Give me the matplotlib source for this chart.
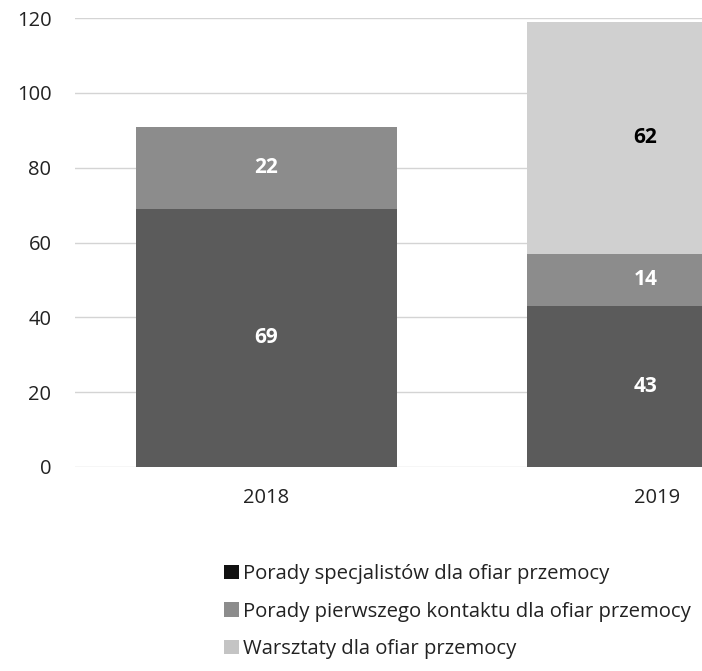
import matplotlib.pyplot as plt
from matplotlib.patches import Patch
import numpy as np

years = ["2018", "2019"]
specjalisci = [69, 43]
pierwszy_kontakt = [22, 14]
warsztaty = [0, 62]
series_names = ["Porady specjalistów dla ofiar przemocy",
                "Porady pierwszego kontaktu dla ofiar przemocy",
                "Warsztaty dla ofiar przemocy"]

plt.rcParams['font.family'] = ['Open Sans', 'DejaVu Sans']

colors = ["#5b5b5b", "#8c8c8c", "#d0d0d0"]
label_colors = ["white", "white", "black"]

fig = plt.figure(figsize=(7.02, 6.71), dpi=100)
ax = fig.add_axes([75 / 702, 204 / 671, 1 - 75 / 702, 449 / 671])

x = np.arange(len(years))
width = 0.667
bottom = np.zeros(len(years))
for vals, col, lc in zip([specjalisci, pierwszy_kontakt, warsztaty], colors, label_colors):
    vals = np.array(vals)
    bars = ax.bar(x, vals, width, bottom=bottom, color=col, zorder=2)
    for xi, v, b in zip(x, vals, bottom):
        if v > 0:
            ax.text(xi - 0.03 * (xi > 0), b + v / 2, str(v), ha='center', va='center',
                    color=lc, fontsize=15, fontweight='bold', zorder=3)
    bottom += vals

ax.set_xlim(-0.49, 1.115)
ax.set_ylim(0, 120)
ax.set_yticks(np.arange(0, 121, 20))
ax.set_xticks(x)
ax.set_xticklabels(years)
ax.yaxis.grid(True, color="#d4d4d4", linewidth=1.0, zorder=0)
ax.set_axisbelow(True)
for s in ax.spines.values():
    s.set_visible(False)
ax.tick_params(axis='both', length=0, labelsize=14.5, colors="#222222")
ax.tick_params(axis='y', pad=17)
ax.tick_params(axis='x', pad=15)

handles = [Patch(facecolor=c, edgecolor='none') for c in ["#111111", "#8c8c8c", "#c4c4c4"]]
fig.legend(handles, series_names, loc='upper left', bbox_to_anchor=(224 / 702, (671 - 564) / 671),
           frameon=False, fontsize=14.6, handlelength=0.72, handleheight=0.72, handletextpad=0.2,
           labelspacing=0.87, borderpad=0, borderaxespad=0, labelcolor="#222222")

fig.savefig("out.png", dpi=100, facecolor='white')
